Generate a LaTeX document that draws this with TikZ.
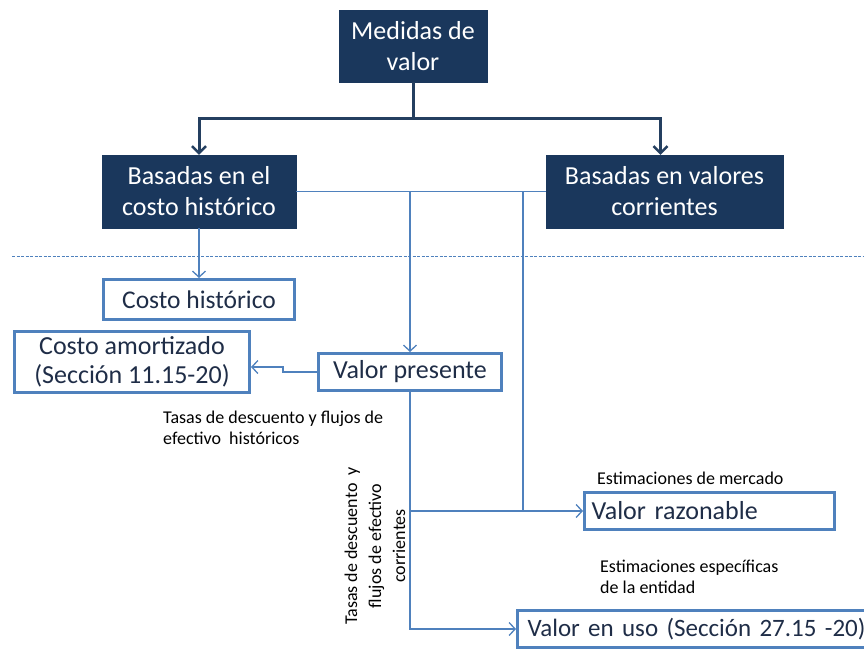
\documentclass[tikz,border=0pt]{standalone}
\usepackage{fontspec}
\setmainfont{Carlito}
\usetikzlibrary{arrows.meta}
\definecolor{navy}{HTML}{1A375C}
\definecolor{darrowc}{HTML}{243F60}
\definecolor{lblue}{HTML}{4F81BD}
\definecolor{dtext}{HTML}{1F2D47}
\begin{document}
\begin{tikzpicture}[x=1pt,y=-1pt,
  darkbox/.style={draw=navy, fill=navy, text=white, font=\fontsize{26}{31}\selectfont, align=center, inner sep=0pt},
  lightbox/.style={draw=lblue, line width=3pt, text=dtext, font=\fontsize{26}{29}\selectfont, align=center, inner sep=0pt},
  lbl/.style={font=\fontsize{18}{21}\selectfont, align=left, inner sep=0pt, text=black},
  darrow/.style={draw=darrowc, line width=3pt, -{Straight Barb[length=7pt,width=14pt,line width=2.5pt]}},
  conn/.style={draw=lblue, line width=1.3pt},
  tarrow/.style={conn, -{Straight Barb[length=6pt,width=13pt]}},
]
\useasboundingbox (0,0) rectangle (864,648);
\clip (0,0) rectangle (864,648);

% boxes
\node[darkbox, minimum width=148pt, minimum height=72pt] (top) at (413,46) {Medidas de\\valor};
\node[darkbox, minimum width=194pt, minimum height=73pt] (bhist) at (199,191.5) {Basadas en el\\costo histórico};
\node[darkbox, minimum width=237pt, minimum height=73pt] (bcorr) at (664.5,191.5) {Basadas en valores\\corrientes};
\node[lightbox, minimum width=191pt, minimum height=40pt, font=\fontsize{25.5}{29}\selectfont] (chist) at (199,299.5) {Costo histórico};
\node[lightbox, minimum width=235pt, minimum height=61pt] (camort) at (132,362) {Costo amortizado\\(Sección 11.15-20)};
\node[lightbox, minimum width=183pt, minimum height=37pt] (vpres) at (410,372) {Valor presente};
\node[lightbox, minimum width=250pt, minimum height=37pt, text width=236pt, align=left] (vrazon) at (709.5,511) {Valor razonable};
\node[lightbox, anchor=west, minimum width=420pt, minimum height=37pt, text width=400pt, align=left, font=\fontsize{25}{29}\selectfont] (vuso) at (516,629) {Valor en uso (Sección 27.15 -20)};

% dashed separator
\draw[lblue, line width=0.8pt, dash pattern=on 3pt off 1.5pt] (12,256) -- (864,256);

% top connectors
\coordinate (split) at (413,118);
\draw[darrowc, line width=3pt] (top.south) -- (split);
\draw[darrow] (split) -| (bhist.north);
\draw[darrow] (split) -| ([xshift=-4pt]bcorr.north);

% light connectors
\coordinate (j1) at (523,191.5);
\coordinate (j2) at (523,511);
\draw[conn] (bhist.east) -- (bcorr.west);
\draw[conn] (j1) -- (j2);
\draw[tarrow] (vpres.north |- bhist.east) -- (vpres.north);
\draw[tarrow] (bhist.south) -- (chist.north);
\draw[tarrow] (vpres.west) -- ++(-34,0) |- ([yshift=-5pt]camort.east);
\draw[tarrow] (vpres.south) |- (vuso.west);
\draw[tarrow] (vpres.south |- vrazon.west) -- (vrazon.west);

% labels
\node[lbl, anchor=west] (l1) at (163,428) {Tasas de descuento y flujos de\\efectivo\ \ históricos};
\node[lbl, align=center, rotate=90, font=\fontsize{18}{24}\selectfont] (l2) at (375,546) {Tasas de descuento\ \ y\\flujos de efectivo\\corrientes};
\node[lbl, anchor=west] (l3) at (597,478) {Estimaciones de mercado};
\node[lbl, anchor=west] (l4) at (600,577) {Estimaciones específicas\\de la entidad};
\end{tikzpicture}
\end{document}
